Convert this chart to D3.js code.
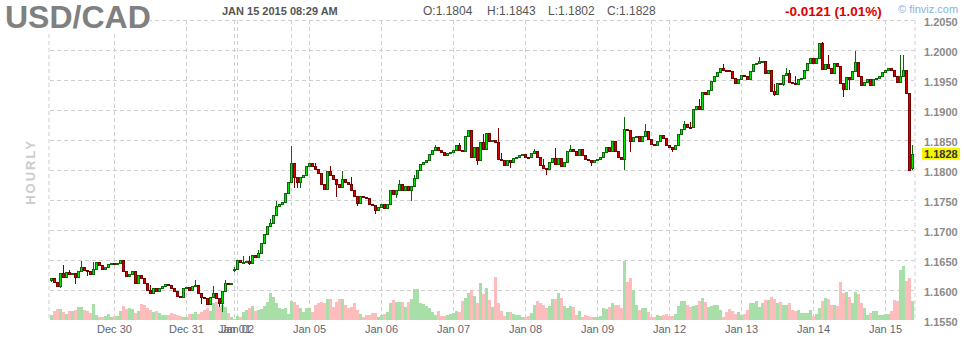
<!DOCTYPE html>
<html><head><meta charset="utf-8">
<script src="https://cdn.jsdelivr.net/npm/d3@7"></script>
<style>body{margin:0;background:#fff}svg{display:block}</style>
</head><body><svg id="c" width="964" height="340"></svg>
<script>
// Hourly closes, Dec 29 2014 03:00 -> Jan 15 2015 08:00 (288 bars)
const closes=[
1.1621,1.1615,1.1607,1.1629,1.1622,1.1631,1.1627,1.1629,1.1622,1.1632,
1.1640,1.1634,1.1633,1.1628,1.1636,1.1647,1.1643,1.1636,1.1640,1.1644,
1.1646,1.1644,1.1645,1.1651,1.1633,1.1624,1.1628,1.1633,1.1612,1.1626,
1.1621,1.1613,1.1601,1.1596,1.1604,1.1600,1.1604,1.1608,1.1611,1.1610,
1.1604,1.1600,1.1591,1.1589,1.1604,1.1606,1.1601,1.1608,1.1609,1.1596,
1.1590,1.1587,1.1578,1.1589,1.1596,1.1587,1.1579,1.1600,1.1613,1.1612,
1.1612,1.1636,1.1651,1.1648,1.1648,1.1649,1.1646,1.1660,1.1656,1.1662,
1.1679,1.1695,1.1708,1.1712,1.1726,1.1741,1.1744,1.1748,1.1762,1.1781,
1.1812,1.1790,1.1781,1.1790,1.1793,1.1808,1.1812,1.1807,1.1803,1.1796,
1.1778,1.1769,1.1799,1.1793,1.1786,1.1778,1.1772,1.1786,1.1781,1.1778,
1.1767,1.1757,1.1746,1.1758,1.1756,1.1754,1.1744,1.1743,1.1734,1.1740,
1.1744,1.1738,1.1744,1.1768,1.1761,1.1768,1.1777,1.1767,1.1775,1.1767,
1.1775,1.1788,1.1801,1.1811,1.1814,1.1817,1.1827,1.1834,1.1839,1.1834,
1.1831,1.1825,1.1829,1.1831,1.1834,1.1842,1.1834,1.1833,1.1858,1.1867,
1.1823,1.1839,1.1818,1.1848,1.1836,1.1862,1.1850,1.1851,1.1847,1.1819,
1.1818,1.1810,1.1817,1.1814,1.1821,1.1822,1.1825,1.1828,1.1823,1.1822,
1.1829,1.1832,1.1822,1.1810,1.1804,1.1803,1.1814,1.1821,1.1811,1.1821,
1.1808,1.1814,1.1833,1.1836,1.1833,1.1825,1.1836,1.1825,1.1819,1.1817,
1.1814,1.1818,1.1819,1.1823,1.1831,1.1839,1.1833,1.1849,1.1832,1.1822,
1.1819,1.1869,1.1867,1.1850,1.1856,1.1857,1.1849,1.1858,1.1866,1.1853,
1.1844,1.1843,1.1850,1.1859,1.1854,1.1843,1.1840,1.1836,1.1843,1.1861,
1.1869,1.1878,1.1873,1.1872,1.1903,1.1907,1.1903,1.1931,1.1927,1.1934,
1.1949,1.1958,1.1964,1.1971,1.1968,1.1967,1.1966,1.1954,1.1946,1.1953,
1.1960,1.1957,1.1953,1.1966,1.1977,1.1979,1.1982,1.1983,1.1962,1.1967,
1.1933,1.1927,1.1946,1.1944,1.1960,1.1963,1.1947,1.1946,1.1945,1.1953,
1.1954,1.1968,1.1979,1.1988,1.1979,1.1988,1.2012,1.1969,1.1978,1.1971,
1.1962,1.1979,1.1975,1.1946,1.1936,1.1956,1.1953,1.1966,1.1981,1.1957,
1.1942,1.1947,1.1953,1.1943,1.1952,1.1955,1.1958,1.1964,1.1968,1.1971,
1.1968,1.1957,1.1947,1.1957,1.1967,1.1929,1.1801,1.1828];
// opens that differ from the previous close
const openOverrides=[[0,1.1618],[61,1.1635],[287,1.1804]];
// visible wick extremes [bar, price]
const wickHighs=[[4,1.1642],[6,1.1634],[10,1.1650],[14,1.1648],[33,1.1609],[48,1.1617],[54,1.1608],[58,1.1618],
[61,1.1640],[64,1.1658],[66,1.1658],[69,1.1668],[73,1.1719],[75,1.1749],[80,1.1841],[88,1.1812],[93,1.1808],
[97,1.1799],[100,1.1790],[116,1.1784],[121,1.1792],[128,1.1843],[136,1.1846],[144,1.1861],[149,1.1871],
[150,1.1829],[161,1.1836],[164,1.1819],[168,1.1837],[173,1.1843],[191,1.1889],[198,1.1878],[211,1.1883],
[213,1.1881],[216,1.1919],[224,1.1977],[236,1.1990],[241,1.1944],[245,1.1971],[246,1.1968],[248,1.1958],
[257,1.2015],[259,1.1992],[268,1.2000],[283,1.1992],[284,1.1993],[287,1.1843]];
const wickLows=[[0,1.1616],[3,1.1605],[8,1.1613],[12,1.1626],[50,1.1579],[56,1.1575],[57,1.1565],[61,1.1633],
[66,1.1644],[81,1.1772],[82,1.1772],[83,1.1772],[95,1.1758],[102,1.1742],[108,1.1729],[115,1.1756],[120,1.1751],
[142,1.1811],[153,1.1806],[165,1.1794],[180,1.1810],[191,1.1803],[193,1.1833],[207,1.1833],[241,1.1926],
[244,1.1942],[264,1.1925],[266,1.1936],[287,1.1802]];
// hourly volume (relative units)
const volumes=[
5,9,11,11,8,6,9,9,10,13,13,10,9,7,16,5,3,3,4,6,3,4,4,9,14,11,12,11,7,9,
16,15,12,10,8,9,7,5,5,5,7,6,5,4,3,3,6,6,8,6,8,10,12,9,17,18,13,15,13,7,
3,1,4,3,8,10,12,14,9,10,11,14,18,27,23,17,12,11,12,6,19,18,15,12,8,12,12,8,15,17,
18,17,21,21,13,18,21,21,15,12,13,17,10,6,3,5,5,7,7,3,5,6,8,17,20,18,18,18,13,18,
21,31,31,17,16,14,12,8,5,9,4,4,5,6,7,9,8,19,22,27,30,24,17,37,26,32,20,13,43,17,
9,4,8,8,6,5,5,3,3,4,7,15,19,17,15,12,14,21,21,27,22,14,12,14,13,5,9,3,5,4,
3,3,3,4,12,11,13,17,15,15,12,59,38,42,30,15,10,12,12,8,3,3,5,4,5,6,4,4,6,14,
19,19,15,13,14,15,19,22,18,13,14,15,15,10,3,8,11,9,6,8,5,6,10,17,17,19,13,17,20,20,
23,21,17,18,15,15,17,10,9,10,7,7,7,10,4,6,12,19,22,21,15,15,14,38,27,28,23,17,28,26,
17,12,5,7,9,9,5,5,6,6,9,20,19,50,54,39,42,19];
const priceTicks=[1.2050,1.2000,1.1950,1.1900,1.1850,1.1800,1.1750,1.1700,1.1650,1.1600,1.1550];
const gridPrices=[1.2050,1.2000,1.1950,1.1900,1.1850,1.1800,1.1750,1.1700,1.1650,1.1600];
const dateTickBars=[21,45,61,62,80,86,110,134,158,182,200,206,230,254,278];
const dateTickLabels=["Dec 30","Dec 31","Jan 01","Jan 02","","Jan 05","Jan 06","Jan 07","Jan 08","Jan 09","","Jan 12","Jan 13","Jan 14","Jan 15"];
const lastPrice=1.1828;

const svg=d3.select("#c").style("font-family","'Liberation Sans',Arial,sans-serif");
const N=closes.length;
const x=d3.scaleLinear().domain([0,N]).range([50,914]);
const y=d3.scaleLinear().domain([1.1550,1.2050]).range([320.5,20.5]);
const yv=d3.scaleLinear().domain([0,60]).range([320,260]);

const ov=new Map(openOverrides), wh=new Map(wickHighs), wl=new Map(wickLows);
const bars=closes.map((c,i)=>{
  const o=ov.has(i)?ov.get(i):(i>0?closes[i-1]:c);
  const h=Math.max(o,c,wh.has(i)?wh.get(i):-1);
  const l=Math.min(o,c,wl.has(i)?wl.get(i):9);
  return {i,o,c,h,l,v:volumes[i],up:c>=o};
});

const grid=svg.append("g").attr("stroke","#cfcfcf").attr("stroke-dasharray","4,3").attr("stroke-width",1);
grid.selectAll("line.h").data(gridPrices).join("line").attr("class","h")
  .attr("x1",50).attr("x2",914).attr("y1",d=>Math.round(y(d)-0.5)+0.5).attr("y2",d=>Math.round(y(d)-0.5)+0.5);
const vx=[0.5-1.5,...dateTickBars,N-0.5+0.5];
grid.selectAll("line.v").data(vx).join("line").attr("class","v")
  .attr("x1",d=>x(d+0.5)+(d<0?0.5:0)+(d>=N?-0.5:0)).attr("x2",d=>x(d+0.5)+(d<0?0.5:0)+(d>=N?-0.5:0))
  .attr("y1",20).attr("y2",320);

// volume
svg.append("g").selectAll("rect").data(bars).join("rect")
  .attr("x",d=>x(d.i)).attr("width",3)
  .attr("y",d=>yv(d.v)).attr("height",d=>320-yv(d.v))
  .attr("fill",d=>d.up?"#a8dea8":"#ffbcbc");

// wicks
svg.append("g").selectAll("line").data(bars).join("line")
  .attr("x1",d=>x(d.i)+1.5).attr("x2",d=>x(d.i)+1.5)
  .attr("y1",d=>Math.round(y(d.h))).attr("y2",d=>Math.round(y(d.l))+1)
  .attr("stroke",d=>d.up?"#0a6a0a":"#7a0000").attr("stroke-width",1);
// bodies
svg.append("g").selectAll("rect").data(bars).join("rect")
  .attr("x",d=>x(d.i)+0.5).attr("width",2)
  .attr("y",d=>Math.round(y(Math.max(d.o,d.c)))+0.5)
  .attr("height",d=>Math.max(1,Math.round(y(Math.min(d.o,d.c)))-Math.round(y(Math.max(d.o,d.c)))))
  .attr("fill",d=>d.up?"#00e600":"#d80000")
  .attr("stroke",d=>d.up?"#0a6a0a":"#7a0000").attr("stroke-width",1);

// price axis labels
svg.append("g").selectAll("text").data(priceTicks).join("text")
  .attr("x",924).attr("y",d=>y(d)+5).attr("font-size",11).attr("font-weight","bold")
  .attr("fill","#8a8a8a").text(d=>d.toFixed(4));
svg.append("rect").attr("x",922).attr("y",y(lastPrice)-6).attr("width",38).attr("height",12).attr("fill","#f5f500");
svg.append("text").attr("x",924).attr("y",y(lastPrice)+4.5).attr("font-size",11).attr("font-weight","bold")
  .attr("fill","#333").text(lastPrice.toFixed(4));

// date labels
svg.append("g").selectAll("text").data(dateTickBars.map((b,k)=>[b,dateTickLabels[k]]).filter(d=>d[1]))
  .join("text").attr("x",d=>x(d[0]+0.5)).attr("y",333).attr("text-anchor","middle")
  .attr("font-size",11).attr("fill","#606670").text(d=>d[1]);

// header
svg.append("rect").attr("x",0).attr("y",0).attr("width",150).attr("height",31).attr("fill","#fff");
svg.append("text").attr("x",5).attr("y",28).attr("font-size",32).attr("font-weight","bold").attr("fill","#808080").text("USD/CAD");
svg.append("text").attr("x",222).attr("y",15).attr("font-size",11).attr("font-weight","bold").attr("fill","#555").text("JAN 15 2015 08:29 AM");
const ohlc=[["O:1.1804",423],["H:1.1843",487],["L:1.1802",548],["C:1.1828",607]];
svg.append("g").selectAll("text").data(ohlc).join("text").attr("x",d=>d[1]).attr("y",15)
  .attr("font-size",12).attr("fill","#555").text(d=>d[0]);
svg.append("text").attr("x",785).attr("y",15.5).attr("font-size",13.5).attr("font-weight","bold").attr("fill","#e00000").text("-0.0121 (1.01%)");
svg.append("text").attr("x",898).attr("y",13).attr("font-size",11).attr("fill","#80b4e4").text("© finviz.com");
svg.append("text").attr("transform","translate(35,172) rotate(-90)").attr("text-anchor","middle")
  .attr("font-size",13).attr("font-weight","bold").attr("letter-spacing",2).attr("fill","#cccccc").text("HOURLY");
</script></body></html>
